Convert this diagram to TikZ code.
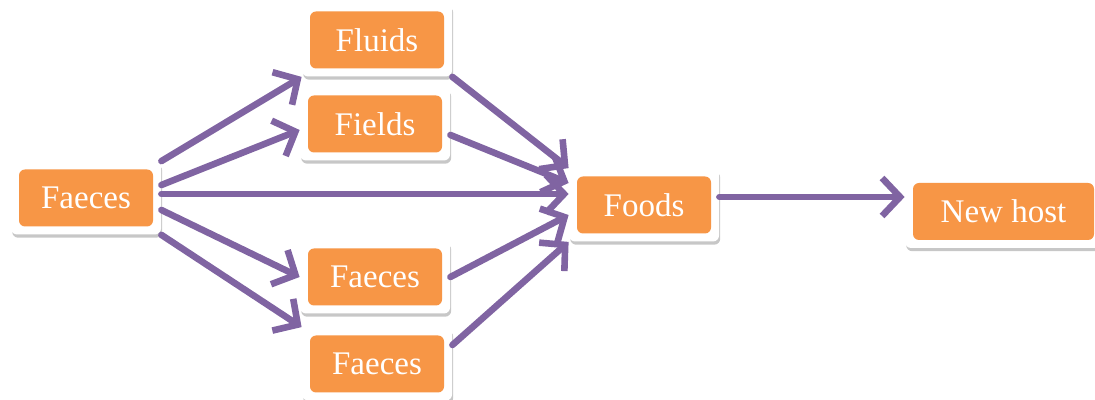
\documentclass[tikz,border=0pt]{standalone}
\usepackage{fontspec}
\setmainfont{Liberation Serif}
\usepackage{tikz}
\usetikzlibrary{positioning, arrows.meta, calc, shadows}
\definecolor{boxorange}{HTML}{F79646}
\definecolor{purp}{HTML}{8064A2}
\tikzset{
  srcbox/.style={fill=white, rounded corners=3pt, minimum width=75pt, minimum height=36.5pt,
                 inner sep=0pt, text=white, font=\fontsize{16.5}{19}\selectfont,
                 drop shadow={shadow xshift=0.6pt, shadow yshift=-1.6pt, opacity=0.22, fill=black},
                 path picture={\fill[boxorange]
                   ([shift={(4pt,4pt)}]path picture bounding box.south west) rectangle
                   ([shift={(-4pt,-4pt)}]path picture bounding box.north east);}},
  arr/.style={-{Straight Barb[length=9pt, width=19pt]}, draw=purp, line width=3.3pt,
              line cap=round, line join=round},
}
\begin{document}
\begin{tikzpicture}[x=0.5pt, y=0.5pt]
  \useasboundingbox (0,0) rectangle (1095,400);
  \node[srcbox] (faeces) at (86,202) {Faeces};
  \node[srcbox] (fluids) at (377,360) {Fluids};
  \node[srcbox] (fields) at (375,276) {Fields};
  \node[srcbox] (faecesb) at (375,123) {Faeces};
  \node[srcbox] (faecesc) at (377,36) {Faeces};
  \node[srcbox] (foods) at (644,195) {Foods};
  \node[srcbox, minimum width=98.5pt] (host) at (1003.5,188.5) {New host};
  % into the second column
  \draw[arr] (faeces.north east) -- (fluids.south west);
  \draw[arr] ([yshift=6.5pt]faeces.east) -- ([yshift=-3pt]fields.west);
  \draw[arr] ([yshift=2pt]faeces.east) -- ([yshift=2pt]faeces.east -| foods.west);
  \draw[arr] ([yshift=-6pt]faeces.east) -- (faecesb.west);
  \draw[arr] (faeces.south east) -- (faecesc.north west);
  % into foods
  \draw[arr] (fluids.south east) -- (foods.north west);
  \draw[arr] ([yshift=-5.5pt]fields.east) -- ([yshift=11pt]foods.west);
  \draw[arr] (faecesb.east) -- ([yshift=-5pt]foods.west);
  \draw[arr] ([yshift=9.5pt]faecesc.east) -- (foods.south west);
  \draw[arr] ([yshift=4pt]foods.east) -- ([yshift=4pt]foods.east -| host.west);
\end{tikzpicture}
\end{document}
